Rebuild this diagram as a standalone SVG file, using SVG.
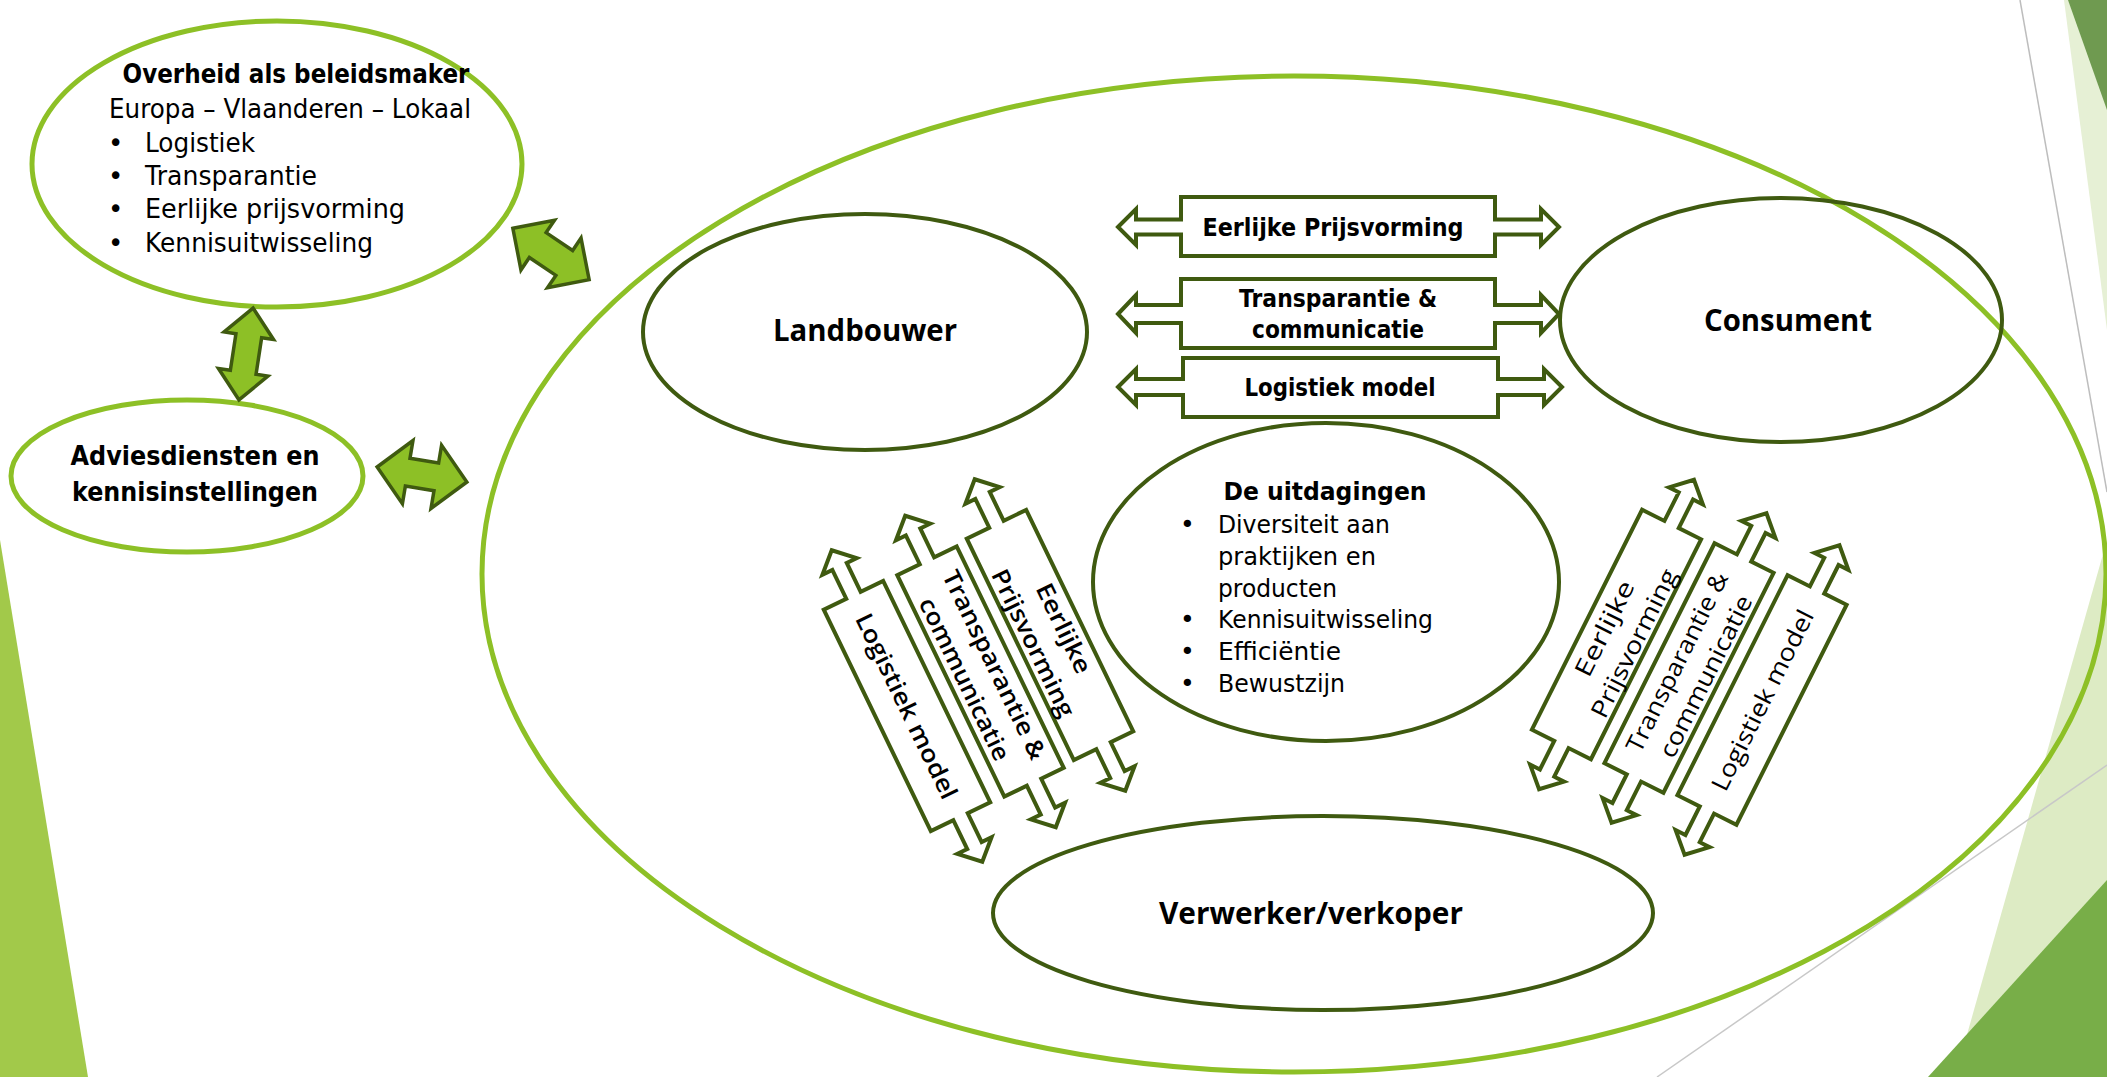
<svg xmlns="http://www.w3.org/2000/svg" xmlns:xlink="http://www.w3.org/1999/xlink" width="2107" height="1077" viewBox="0 0 2107 1077">
<style>
.lime{fill:none;stroke:#8DC026;stroke-width:5}
.dark{fill:none;stroke:#3F5A10;stroke-width:4}
.blk{fill:#8DC026;stroke:#3F5A10;stroke-width:3.5;stroke-linejoin:miter}
.darr{fill:#fff;stroke:#3F5A10;stroke-width:4;stroke-linejoin:miter}
.t{font-family:"DejaVu Sans","Liberation Sans",sans-serif;fill:#000}
.b{font-weight:bold}
.o{font-family:"Open Sans","Noto Sans",sans-serif;fill:#000}
.m{text-anchor:middle}
</style>
<defs>
<path id="dg" d="M-173,0 L-155,-19 L-155,-8 L-123,-8 L-123,-33 L123,-33 L123,-8 L155,-8 L155,-19 L173,0 L155,19 L155,8 L123,8 L123,33 L-123,33 L-123,8 L-155,8 L-155,19 Z"/>
</defs>
<rect width="2107" height="1077" fill="#fff"/>
<g id="decor">
<polygon points="0,540 88,1077 0,1077" fill="#A2C94A"/>
<polygon points="2064,0 2107,0 2107,330" fill="#E6F0D5"/>
<polygon points="2068,0 2107,0 2107,110" fill="#6F9A50"/>
<line x1="2020" y1="0" x2="2107" y2="492" stroke="#BDBDBD" stroke-width="1.5"/>
<polygon points="2107,540 1955,1077 2107,1077" fill="#DDEBC4"/>
<polygon points="2107,880 1928,1077 2107,1077" fill="#78AE48"/>
<line x1="1657" y1="1077" x2="2107" y2="765" stroke="#C8C8C8" stroke-width="1.5"/>
</g>
<g id="system">
<ellipse class="lime" cx="1294" cy="574" rx="812" ry="498"/>
</g>
<g id="overheid">
<ellipse class="lime" cx="277" cy="164" rx="245" ry="143" fill="#fff"/>
<text class="t b m" x="296" y="83" font-size="26" textLength="347" lengthAdjust="spacingAndGlyphs">Overheid als beleidsmaker</text>
<text class="t" x="109" y="118" font-size="26" textLength="362" lengthAdjust="spacingAndGlyphs">Europa – Vlaanderen – Lokaal</text>
<text class="t" x="108" y="152" font-size="26">•</text>
<text class="t" x="145" y="152" font-size="26" textLength="110" lengthAdjust="spacingAndGlyphs">Logistiek</text>
<text class="t" x="108" y="185" font-size="26">•</text>
<text class="t" x="145" y="185" font-size="26" textLength="172" lengthAdjust="spacingAndGlyphs">Transparantie</text>
<text class="t" x="108" y="218" font-size="26">•</text>
<text class="t" x="145" y="218" font-size="26" textLength="260" lengthAdjust="spacingAndGlyphs">Eerlijke prijsvorming</text>
<text class="t" x="108" y="252" font-size="26">•</text>
<text class="t" x="145" y="252" font-size="26" textLength="228" lengthAdjust="spacingAndGlyphs">Kennisuitwisseling</text>
</g>
<g id="advies">
<ellipse class="lime" cx="187" cy="476" rx="176" ry="76"/>
<text class="t b m" x="195" y="465" font-size="27" textLength="249" lengthAdjust="spacingAndGlyphs">Adviesdiensten en</text>
<text class="t b m" x="195" y="501" font-size="27" textLength="246" lengthAdjust="spacingAndGlyphs">kennisinstellingen</text>
</g>
<g id="landbouwer">
<ellipse class="dark" cx="865" cy="332" rx="222" ry="118"/>
<text class="o m" x="865" y="341" font-size="30" font-weight="700" textLength="184" lengthAdjust="spacingAndGlyphs">Landbouwer</text>
</g>
<g id="consument">
<ellipse class="dark" cx="1781" cy="320" rx="221" ry="122"/>
<text class="o m" x="1788" y="331" font-size="30" font-weight="700" textLength="168" lengthAdjust="spacingAndGlyphs">Consument</text>
</g>
<g id="uitdagingen">
<ellipse class="dark" cx="1326" cy="582" rx="233" ry="159"/>
<text class="t b m" x="1325" y="500" font-size="25" textLength="203" lengthAdjust="spacingAndGlyphs">De uitdagingen</text>
<text class="t" x="1180" y="533" font-size="25">•</text>
<text class="t" x="1218" y="533" font-size="25" textLength="172" lengthAdjust="spacingAndGlyphs">Diversiteit aan</text>
<text class="t" x="1218" y="565" font-size="25" textLength="158" lengthAdjust="spacingAndGlyphs">praktijken en</text>
<text class="t" x="1218" y="597" font-size="25" textLength="119" lengthAdjust="spacingAndGlyphs">producten</text>
<text class="t" x="1180" y="628" font-size="25">•</text>
<text class="t" x="1218" y="628" font-size="25" textLength="215" lengthAdjust="spacingAndGlyphs">Kennisuitwisseling</text>
<text class="t" x="1180" y="660" font-size="25">•</text>
<text class="t" x="1218" y="660" font-size="25" textLength="123" lengthAdjust="spacingAndGlyphs">Efficiëntie</text>
<text class="t" x="1180" y="692" font-size="25">•</text>
<text class="t" x="1218" y="692" font-size="25" textLength="127" lengthAdjust="spacingAndGlyphs">Bewustzijn</text>
</g>
<g id="verwerker">
<ellipse class="dark" cx="1323" cy="913" rx="330" ry="97"/>
<text class="o m" x="1311" y="924" font-size="31" font-weight="700" textLength="304" lengthAdjust="spacingAndGlyphs">Verwerker/verkoper</text>
</g>
<g id="connectors">
<path class="blk" transform="translate(246,354) rotate(98.7)" d="M-46.5,0 L-18.5,-25 L-18.5,-13 L18.5,-13 L18.5,-25 L46.5,0 L18.5,25 L18.5,13 L-18.5,13 L-18.5,25 Z"/>
<path class="blk" transform="translate(551,254) rotate(34)" d="M-46,0 L-16,-30 L-16,-15 L16,-15 L16,-30 L46,0 L16,30 L16,15 L-16,15 L-16,30 Z"/>
<path class="blk" transform="translate(422,474.5) rotate(9.5)" d="M-45.5,0 L-14.5,-32 L-14.5,-14 L14.5,-14 L14.5,-32 L45.5,0 L14.5,32 L14.5,14 L-14.5,14 L-14.5,32 Z"/>
<g id="h1">
<path class="darr" d="M1118,227 L1136,209 L1136,219.5 L1181,219.5 L1181,197 L1495,197 L1495,219.5 L1541,219.5 L1541,209 L1559,227 L1541,245 L1541,234.5 L1495,234.5 L1495,256 L1181,256 L1181,234.5 L1136,234.5 L1136,245 Z"/>
<text class="t b m" x="1333" y="236" font-size="25" textLength="261" lengthAdjust="spacingAndGlyphs">Eerlijke Prijsvorming</text>
</g>
<g id="h2">
<path class="darr" d="M1118,314 L1136,295 L1136,305 L1181,305 L1181,279 L1495,279 L1495,305 L1541,305 L1541,295 L1559,314 L1541,333 L1541,323 L1495,323 L1495,348 L1181,348 L1181,323 L1136,323 L1136,333 Z"/>
<text class="t b m" x="1338" y="307" font-size="25" textLength="198" lengthAdjust="spacingAndGlyphs">Transparantie &amp;</text>
<text class="t b m" x="1338" y="338" font-size="25" textLength="172" lengthAdjust="spacingAndGlyphs">communicatie</text>
</g>
<g id="h3">
<path class="darr" d="M1118,387 L1136,369 L1136,379 L1183,379 L1183,358 L1498,358 L1498,379 L1544,379 L1544,369 L1562,387 L1544,405 L1544,395 L1498,395 L1498,417 L1183,417 L1183,395 L1136,395 L1136,405 Z"/>
<text class="t b m" x="1340" y="396" font-size="25" textLength="191" lengthAdjust="spacingAndGlyphs">Logistiek model</text>
</g>
<g id="l1" transform="translate(1050,635) rotate(64.2)">
<use class="darr" href="#dg" xlink:href="#dg"/>
<text class="o m" y="-7" font-size="24" font-weight="600" textLength="97" lengthAdjust="spacingAndGlyphs">Eerlijke</text>
<text class="o m" y="27" font-size="24" font-weight="600" textLength="161" lengthAdjust="spacingAndGlyphs">Prijsvorming</text>
</g>
<g id="l2" transform="translate(980.5,671.5) rotate(64.2)">
<use class="darr" href="#dg" xlink:href="#dg"/>
<text class="o m" y="-7" font-size="24" font-weight="600" textLength="207" lengthAdjust="spacingAndGlyphs">Transparantie &amp;</text>
<text class="o m" y="26" font-size="24" font-weight="600" textLength="178" lengthAdjust="spacingAndGlyphs">communicatie</text>
</g>
<g id="l3" transform="translate(907,706) rotate(64.2)">
<use class="darr" href="#dg" xlink:href="#dg"/>
<text class="o m" y="9" font-size="24" font-weight="600" textLength="203" lengthAdjust="spacingAndGlyphs">Logistiek model</text>
</g>
<g id="r1" transform="translate(1616.5,634.5) rotate(-63.4)">
<use class="darr" href="#dg" xlink:href="#dg"/>
<text class="o m" y="-5" font-size="24" textLength="104" lengthAdjust="spacingAndGlyphs">Eerlijke</text>
<text class="o m" y="28" font-size="24" textLength="163" lengthAdjust="spacingAndGlyphs">Prijsvorming</text>
</g>
<g id="r2" transform="translate(1689,668) rotate(-63.4)">
<use class="darr" href="#dg" xlink:href="#dg"/>
<text class="o m" y="-5" font-size="24" textLength="198" lengthAdjust="spacingAndGlyphs">Transparantie &amp;</text>
<text class="o m" y="27" font-size="24" textLength="178" lengthAdjust="spacingAndGlyphs">communicatie</text>
</g>
<g id="r3" transform="translate(1762,700) rotate(-63.4)">
<use class="darr" href="#dg" xlink:href="#dg"/>
<text class="o m" y="9" font-size="24" textLength="199" lengthAdjust="spacingAndGlyphs">Logistiek model</text>
</g>
</g>
</svg>
